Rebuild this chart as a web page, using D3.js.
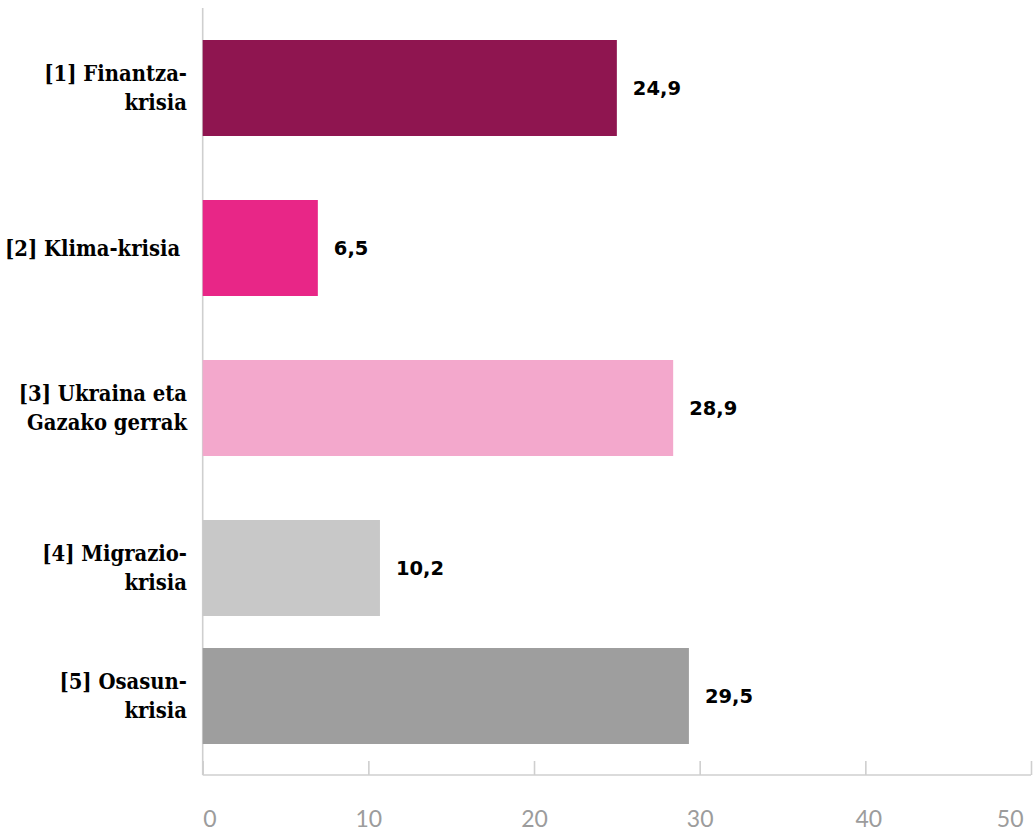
<!DOCTYPE html>
<html><head><meta charset="utf-8">
<script src="https://cdn.jsdelivr.net/npm/d3@7"></script>
<style>
html,body{margin:0;padding:0;background:#fff;}
svg{display:block;}
</style></head>
<body>
<svg id="chart" width="1033" height="832"></svg>
<script>
const categories = [["[1] Finantza-","krisia"],["[2] Klima-krisia\u00a0"],["[3] Ukraina eta","Gazako gerrak"],["[4] Migrazio-","krisia"],["[5] Osasun-","krisia"]];
const barValues = [25.0, 6.95, 28.4, 10.7, 29.35];
const valueLabels = ["24,9", "6,5", "28,9", "10,2", "29,5"];
const colors = ["#8f1550", "#e82687", "#f3a8cc", "#c8c8c8", "#9e9e9e"];
const tickValues = [0, 10, 20, 30, 40, 50];

const svg = d3.select("#chart");
const x = d3.scaleLinear().domain([0, 50]).range([202.7, 1031]);
const yTop = d3.scaleLinear().domain([0, 3, 4]).range([40, 520, 648]);
const barH = 96;

// left line
svg.append("line").attr("x1", x(0)).attr("x2", x(0)).attr("y1", 8).attr("y2", 775)
  .attr("stroke", "#cfcfcf").attr("stroke-width", 1.6);

// axis
const axis = d3.axisTop(x).tickValues(tickValues).tickSize(14).tickFormat(d3.format("d"));
const gAx = svg.append("g").attr("transform", "translate(0,775)").call(axis);
gAx.select(".domain").attr("stroke", "#cfcfcf").attr("stroke-width", 1.6).attr("d", `M${x(0)},0H${x(50)}`);
gAx.selectAll(".tick line").attr("stroke", "#cfcfcf").attr("stroke-width", 1.6);
gAx.selectAll(".tick text").attr("y", 52).attr("dy", 0)
  .attr("fill", "#9c9c9c").attr("font-family", "Lato, sans-serif").attr("font-weight", 400).attr("font-size", 23)
  .attr("text-anchor", "middle");
gAx.selectAll(".tick text").filter(d => d === 0).attr("text-anchor", "start").attr("x", 0);
gAx.selectAll(".tick text").filter(d => d === 50).attr("text-anchor", "end").attr("x", -8);
gAx.selectAll(".tick text").filter(d => d === 40).attr("x", 3);

const idx = d3.range(categories.length);
// bars
svg.selectAll("rect.bar").data(idx).join("rect").attr("class", "bar")
  .attr("x", x(0)).attr("y", i => yTop(i)).attr("width", i => x(barValues[i]) - x(0)).attr("height", barH)
  .attr("fill", i => colors[i]);

// value labels
svg.selectAll("text.val").data(idx).join("text").attr("class", "val")
  .attr("x", i => x(barValues[i]) + 16).attr("y", i => yTop(i) + barH / 2 + 7)
  .attr("font-family", "'DejaVu Sans', sans-serif").attr("font-weight", "bold").attr("font-size", 19.5)
  .attr("fill", "#000").text(i => valueLabels[i]);

// category labels
const cat = svg.selectAll("text.cat").data(idx).join("text").attr("class", "cat")
  .attr("text-anchor", "end").attr("font-family", "'DejaVu Serif Condensed', 'DejaVu Serif', serif")
  .attr("font-weight", "bold").attr("font-size", 21.8).attr("fill", "#000");
cat.each(function(i) {
  const lines = categories[i];
  const cy = yTop(i) + barH / 2;
  const lh = 29;
  const first = cy - (lines.length - 1) * lh / 2 + 7.5;
  d3.select(this).selectAll("tspan").data(lines).join("tspan")
    .attr("x", 187).attr("y", (d, k) => first + k * lh).text(d => d);
});
</script>
</body></html>
